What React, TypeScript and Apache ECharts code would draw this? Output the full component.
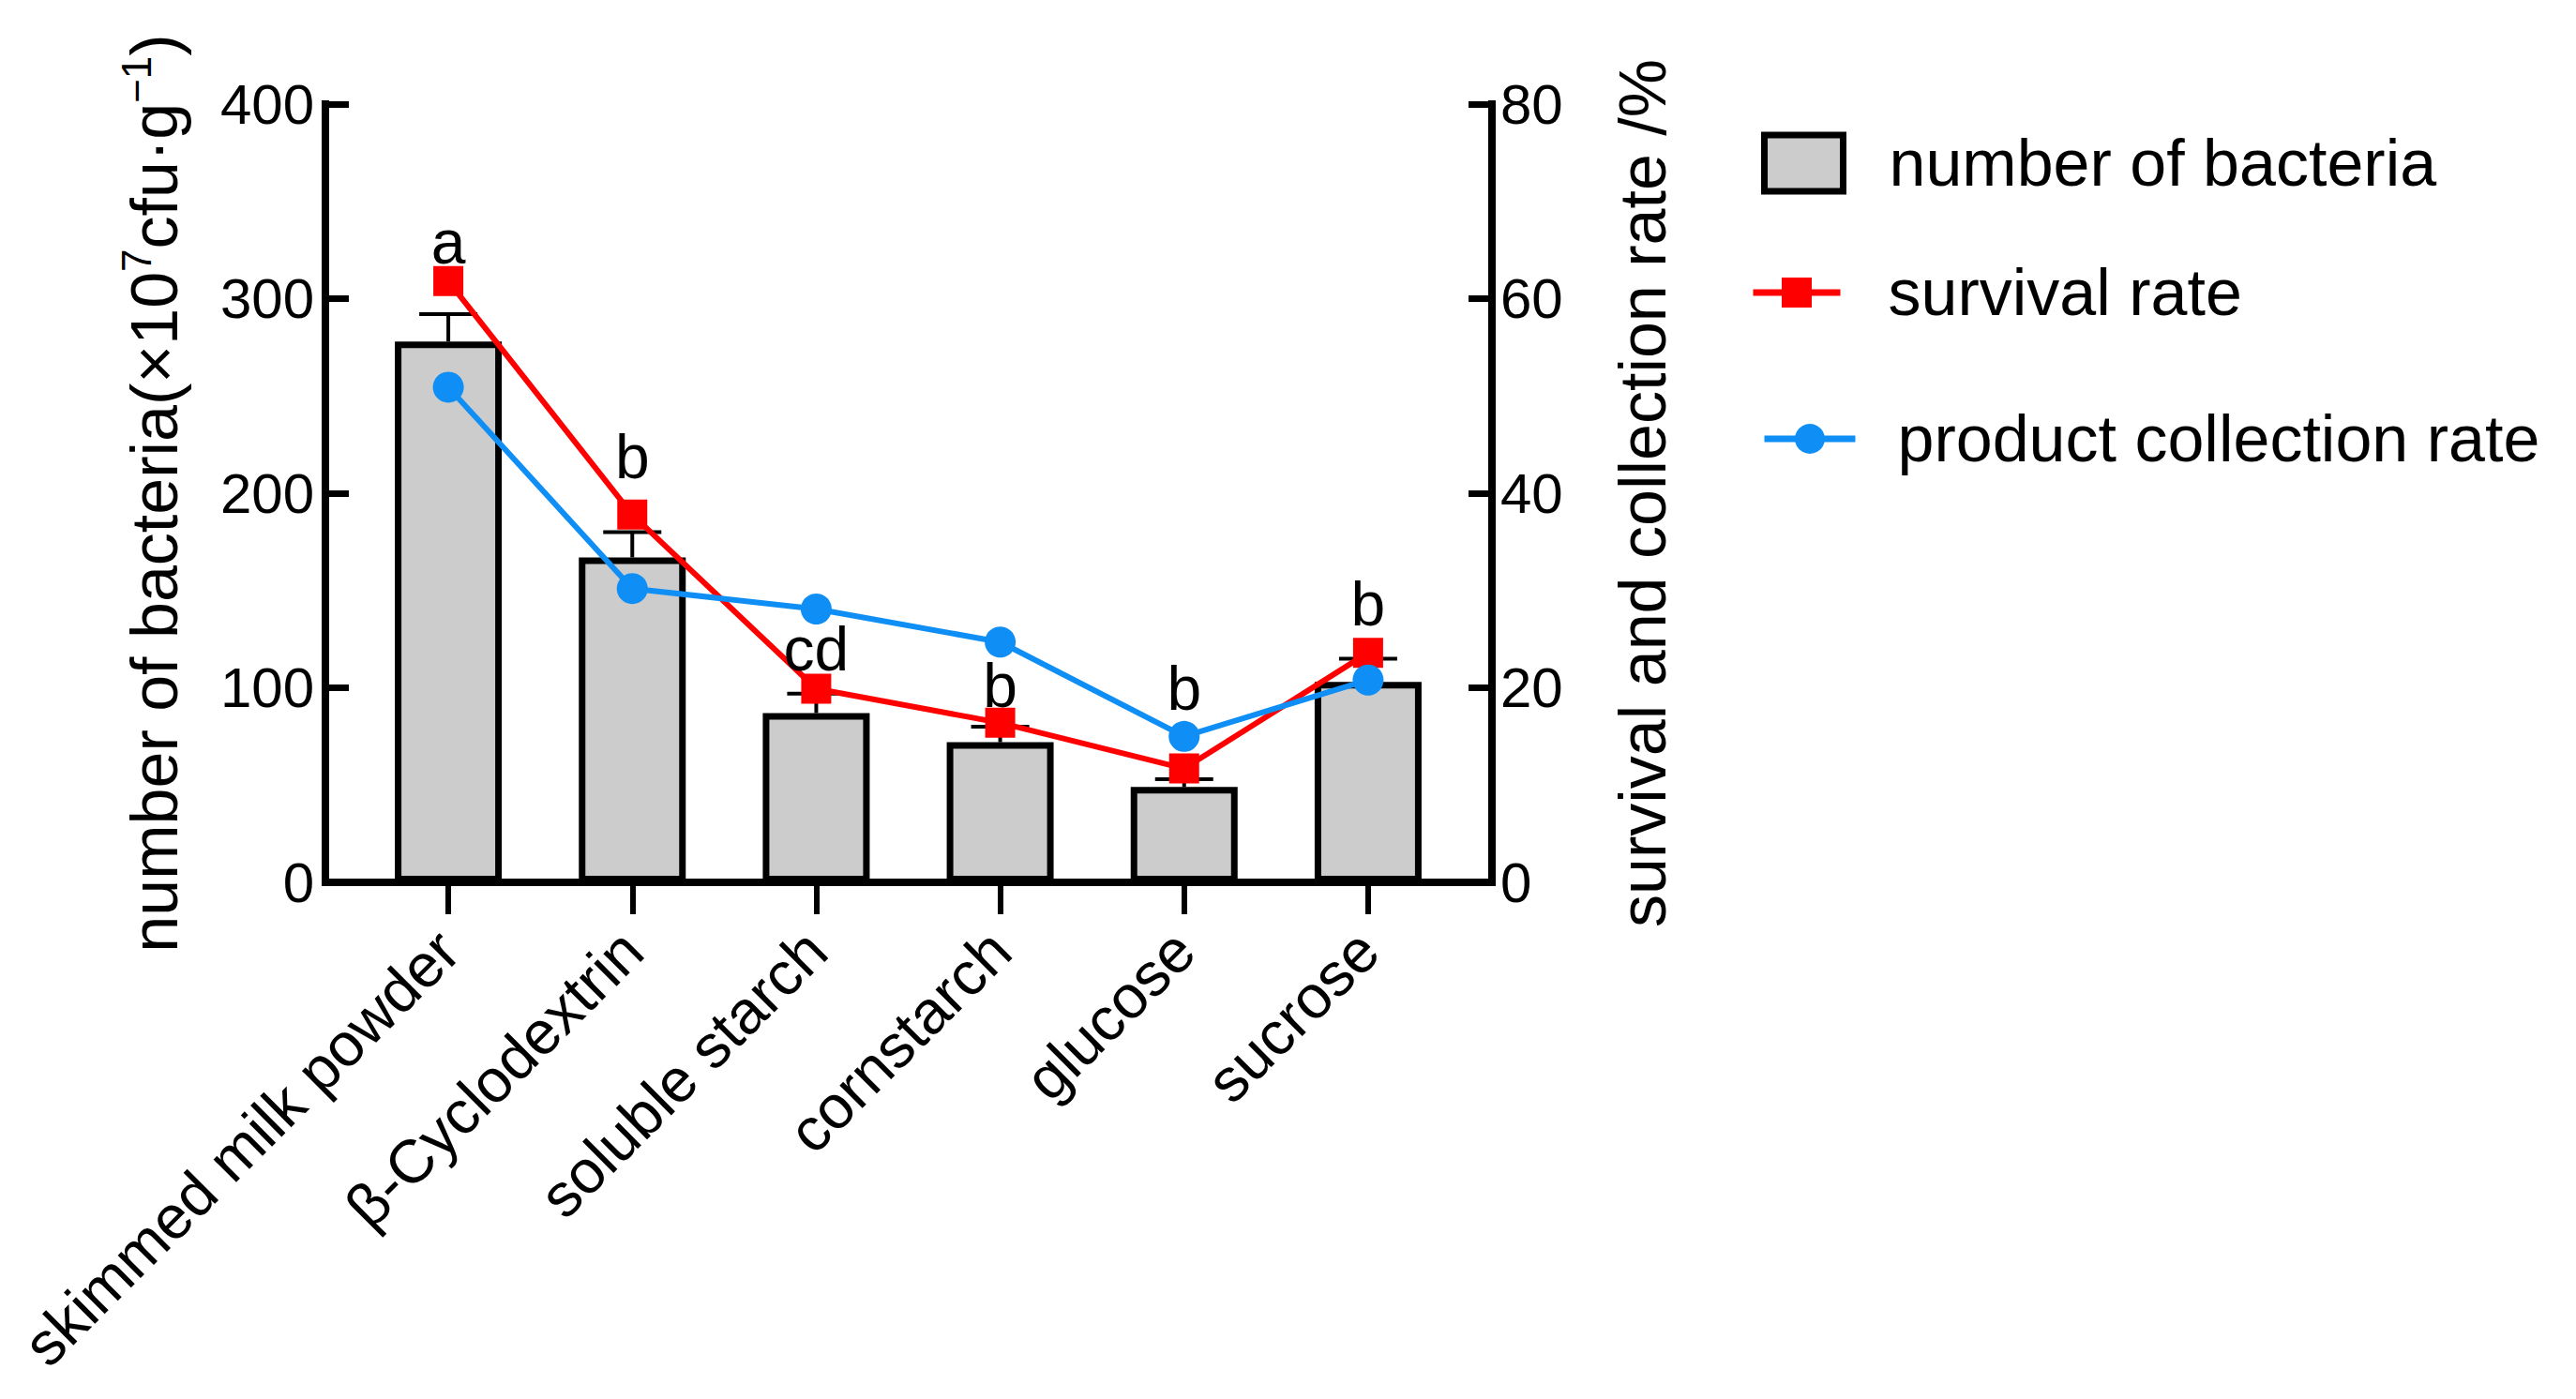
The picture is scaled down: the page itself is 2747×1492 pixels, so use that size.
import React, { useEffect, useRef } from "react";
import * as echarts from "echarts";

const categories = ["skimmed milk powder", "β-Cyclodextrin", "soluble starch", "cornstarch", "glucose", "sucrose"];
const bacteria = [278, 167, 87, 72, 49, 103];
const bacteriaErr = [14, 13, 10, 8, 4, 12];
const survival = [61.8, 37.8, 19.9, 16.4, 11.7, 23.6];
const collection = [50.9, 30.2, 28.1, 24.7, 15.0, 20.8];
const letters = ["a", "b", "cd", "b", "b", "b"];
const letterY = [329, 219, 120, 101, 100, 143];
const leftAxis = { min: 0, max: 400, interval: 100 };
const rightAxis = { min: 0, max: 80, interval: 20 };

const FONT = "Liberation Sans, Arial, Helvetica, sans-serif";
const RED = "#ff0000";
const BLUE = "#0f8ff5";

export default function App() {
  const ref = useRef<HTMLDivElement>(null);
  useEffect(() => {
    document.body.style.margin = "0";
    const chart = echarts.init(ref.current!, null, { renderer: "svg" });
    const axisLineStyle = { color: "#000", width: 8, cap: "square" };
    const option: any = {
      animation: false,
      backgroundColor: "#fff",
      textStyle: { fontFamily: FONT, color: "#000" },
      grid: [
        { left: 347, right: 2747 - 1591, top: 111, bottom: 1492 - 941 },
        { left: 380, right: 2747 - 1557, top: 111, bottom: 1492 - 941 },
      ],
      xAxis: [
        {
          gridIndex: 0, type: "value", min: 0, max: 1,
          axisLine: { show: true, onZero: false, lineStyle: axisLineStyle },
          axisTick: { show: false }, axisLabel: { show: false }, splitLine: { show: false },
        },
        {
          gridIndex: 1, type: "category", data: categories,
          axisLine: { show: false },
          axisTick: { show: true, alignWithLabel: true, length: 34, lineStyle: { color: "#000", width: 6 } },
          axisLabel: { rotate: 45, fontSize: 65, margin: 62, color: "#000", fontFamily: FONT, interval: 0 },
          splitLine: { show: false },
        },
      ],
      yAxis: [
        {
          gridIndex: 0, type: "value", position: "left", ...leftAxis,
          axisLine: { show: true, lineStyle: axisLineStyle },
          axisTick: { show: true, inside: true, length: 25, lineStyle: { color: "#000", width: 7 } },
          axisLabel: { fontSize: 60, margin: 12, color: "#000", fontFamily: FONT },
          splitLine: { show: false },
          name: "number of bacteria(×10{s|7}cfu·g{s|−1})",
          nameLocation: "middle", nameRotate: 90, nameGap: 140,
          nameTextStyle: {
            fontSize: 70, color: "#000", fontFamily: FONT, lineHeight: 84,
            rich: { s: { fontSize: 44, lineHeight: 40, verticalAlign: "top", fontFamily: FONT, color: "#000" } },
          },
        },
        {
          gridIndex: 0, type: "value", position: "right", ...rightAxis,
          axisLine: { show: true, lineStyle: axisLineStyle },
          axisTick: { show: true, inside: true, length: 25, lineStyle: { color: "#000", width: 7 } },
          axisLabel: { fontSize: 60, margin: 9, color: "#000", fontFamily: FONT },
          splitLine: { show: false },
          name: "survival and collection rate /%",
          nameLocation: "middle", nameRotate: 90, nameGap: 126,
          nameTextStyle: { fontSize: 70, color: "#000", fontFamily: FONT },
        },
        { gridIndex: 1, type: "value", ...leftAxis, show: false },
        { gridIndex: 1, type: "value", ...rightAxis, show: false },
      ],
      legend: [
        {
          data: [{ name: "number of bacteria", icon: "rect" }], left: 1878, top: 139, orient: "vertical", padding: 0,
          itemWidth: 84, itemHeight: 60,
          itemStyle: { borderWidth: 7, borderColor: "#000" },
          textStyle: { fontSize: 70, color: "#000", fontFamily: FONT, padding: [0, 0, 0, 44] },
        },
        {
          data: ["survival rate"], left: 1866, top: 277, orient: "vertical", padding: 0,
          itemWidth: 93, itemHeight: 40,
          lineStyle: { width: 7 },
          textStyle: { fontSize: 70, color: "#000", fontFamily: FONT, padding: [0, 0, 0, 46] },
        },
        {
          data: ["product collection rate"], left: 1878, top: 433, orient: "vertical", padding: 0,
          itemWidth: 97, itemHeight: 40,
          lineStyle: { width: 7 },
          textStyle: { fontSize: 70, color: "#000", fontFamily: FONT, padding: [0, 0, 0, 40] },
        },
      ],
      series: [
        {
          name: "number of bacteria", type: "bar", xAxisIndex: 1, yAxisIndex: 2,
          data: bacteria, barWidth: 114,
          itemStyle: { color: "#cccccc", borderColor: "#000", borderWidth: 7 },
          z: 2,
        },
        {
          name: "err", type: "custom", xAxisIndex: 1, yAxisIndex: 2, z: 3, silent: true,
          data: bacteria.map((v, i) => [i, v, v + bacteriaErr[i]]),
          encode: { x: 0, y: [1, 2] },
          renderItem: (params: any, api: any) => {
            const i = api.value(0);
            const p0 = api.coord([i, api.value(1)]);
            const p1 = api.coord([i, api.value(2)]);
            const hw = 31;
            const st = { stroke: "#000", lineWidth: 4 };
            return {
              type: "group",
              children: [
                { type: "line", shape: { x1: p0[0], y1: p0[1], x2: p1[0], y2: p1[1] }, style: st },
                { type: "line", shape: { x1: p1[0] - hw, y1: p1[1], x2: p1[0] + hw, y2: p1[1] }, style: st },
              ],
            };
          },
        },
        {
          name: "survival rate", type: "line", xAxisIndex: 1, yAxisIndex: 3,
          data: survival, symbol: "rect", symbolSize: 32,
          lineStyle: { color: RED, width: 6 }, itemStyle: { color: RED }, z: 4,
        },
        {
          name: "product collection rate", type: "line", xAxisIndex: 1, yAxisIndex: 3,
          data: collection, symbol: "circle", symbolSize: 33,
          lineStyle: { color: BLUE, width: 6 }, itemStyle: { color: BLUE }, z: 5,
        },
        {
          name: "letters", type: "scatter", xAxisIndex: 1, yAxisIndex: 2, z: 6, silent: true,
          data: letterY.map((v, i) => [i, v]), symbolSize: 0,
          itemStyle: { color: "#000" },
          label: {
            show: true, position: "inside", fontSize: 66, color: "#000", fontFamily: FONT,
            textBorderWidth: 0, opacity: 1,
            formatter: (p: any) => letters[p.dataIndex],
          },
        },
      ],
    };
    chart.setOption(option);
    return () => chart.dispose();
  }, []);
  return <div ref={ref} style={{ width: 2747, height: 1492 }} />;
}
